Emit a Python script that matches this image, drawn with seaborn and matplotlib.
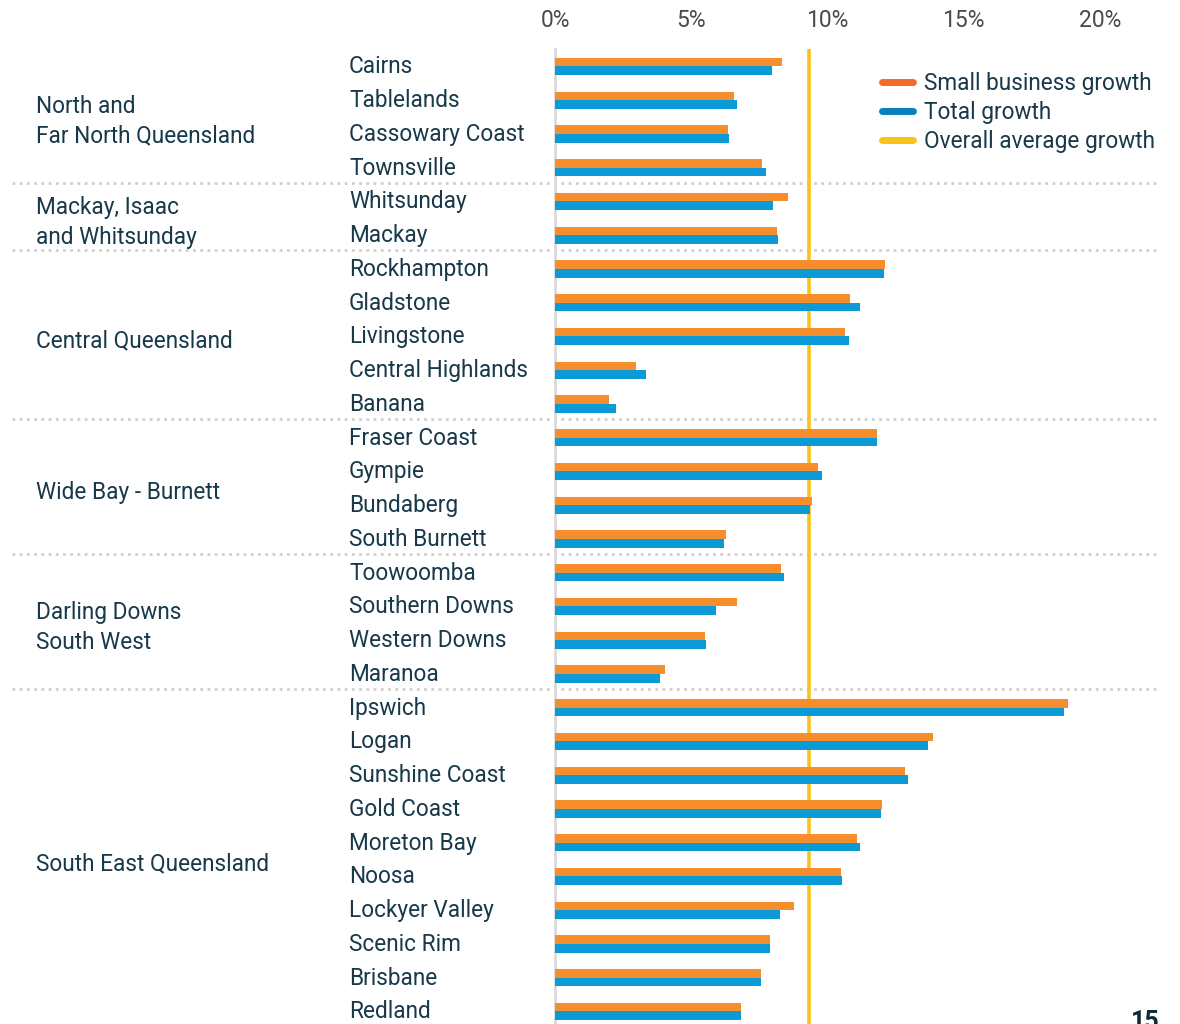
import matplotlib
matplotlib.use("Agg")
import matplotlib.pyplot as plt
from matplotlib.lines import Line2D
import matplotlib.transforms as mtransforms
import seaborn as sns
import pandas as pd

# ---------------- data ----------------
regions = ["North and\nFar North Queensland", "Mackay, Isaac\nand Whitsunday", "Central Queensland",
           "Wide Bay - Burnett", "Darling Downs\nSouth West", "South East Queensland"]
region_sizes = [4, 2, 5, 4, 4, 10]
areas = ["Cairns", "Tablelands", "Cassowary Coast", "Townsville",
         "Whitsunday", "Mackay",
         "Rockhampton", "Gladstone", "Livingstone", "Central Highlands", "Banana",
         "Fraser Coast", "Gympie", "Bundaberg", "South Burnett",
         "Toowoomba", "Southern Downs", "Western Downs", "Maranoa",
         "Ipswich", "Logan", "Sunshine Coast", "Gold Coast", "Moreton Bay", "Noosa",
         "Lockyer Valley", "Scenic Rim", "Brisbane", "Redland"]
small_business = [8.33, 6.56, 6.35, 7.60,
                  8.55, 8.15,
                  12.11, 10.83, 10.64, 2.97, 1.98,
                  11.82, 9.65, 9.43, 6.28,
                  8.29, 6.68, 5.50, 4.04,
                  18.83, 13.87, 12.84, 12.00, 11.09, 10.49, 8.77, 7.88, 7.55, 6.82]
total = [7.96, 6.68, 6.38, 7.75,
         8.00, 8.18,
         12.07, 11.19, 10.79, 3.34, 2.24,
         11.82, 9.80, 9.36, 6.20,
         8.40, 5.91, 5.54, 3.85,
         18.68, 13.69, 12.96, 11.96, 11.19, 10.53, 8.26, 7.88, 7.55, 6.82]
overall_average = 9.32
series_names = ["Small business growth", "Total growth", "Overall average growth"]
x_ticks = [0, 5, 10, 15, 20]
x_tick_labels = ["0%", "5%", "10%", "15%", "20%"]

# ---------------- style ----------------
ORANGE = "#F78E2E"
BLUE = "#0A9BD6"
YELLOW = "#F9C31A"
LEG_ORANGE = "#F26A2B"
LEG_BLUE = "#0A7FBE"
TEXT = "#17394A"
TICK = "#4A4A4A"
FS = 16.3

sns.set_style("white")
plt.rcParams["font.family"] = ["Roboto", "DejaVu Sans"]

W, H = 1180, 1024
fig = plt.figure(figsize=(W / 100, H / 100), dpi=100)
ax_left, ax_right, ax_top = 555, 1160, 49
ax = fig.add_axes([ax_left / W, 0, (ax_right - ax_left) / W, 1 - ax_top / H])

df = pd.DataFrame({
    "area": areas * 2,
    "value": small_business + total,
    "series": [series_names[0]] * len(areas) + [series_names[1]] * len(areas),
})

ax.axvline(overall_average, color=YELLOW, lw=2.6, zorder=0.5)

sns.barplot(data=df, y="area", x="value", hue="series", orient="h",
            palette=[ORANGE, BLUE], width=0.51, saturation=1, linewidth=0,
            legend=False, ax=ax, zorder=2)

row0, step = 66.5, 33.75
ax.set_ylim((H - row0) / step, (ax_top - row0) / step)
ax.set_xlim(0, (ax_right - ax_left) / 27.25)

# spines
for s in ["top", "right", "bottom"]:
    ax.spines[s].set_visible(False)
ax.spines["left"].set_color("#DADADA")
ax.spines["left"].set_linewidth(2)
ax.spines["left"].set_zorder(1)

# x axis on top
ax.xaxis.tick_top()
ax.set_xticks(x_ticks)
ax.set_xticklabels(x_tick_labels)
ax.tick_params(axis="x", length=0, pad=12, labelsize=16.5, labelcolor=TICK)
ax.set_xlabel("")
ax.set_ylabel("")

# category labels left aligned
ax.tick_params(axis="y", length=0, pad=(ax_left - 349) * 0.72, labelsize=FS, labelcolor=TEXT)
shift = mtransforms.ScaledTranslation(0, 2 / 100, fig.dpi_scale_trans)
for lab in ax.get_yticklabels():
    lab.set_horizontalalignment("left")
    lab.set_transform(lab.get_transform() + shift)

# separators between regions
trans = ax.get_yaxis_transform()
x0 = (12 - ax_left) / (ax_right - ax_left)
x1 = (1158 - ax_left) / (ax_right - ax_left)
cum = 0
bounds, centers = [], []
for n in region_sizes:
    centers.append(cum + (n - 1) / 2)
    cum += n
    bounds.append(cum - 0.5)
sep_shift = mtransforms.ScaledTranslation(0, 2 / 100, fig.dpi_scale_trans)
for b in bounds[:-1]:
    ax.plot([x0, x1], [b, b], transform=trans + sep_shift, clip_on=False, color="#CFCFCF",
            lw=2, linestyle=(0, (1, 1.6)), zorder=0.4)

# region labels
xr = (36 - ax_left) / (ax_right - ax_left)
down = mtransforms.ScaledTranslation(0, -4 / 100, fig.dpi_scale_trans)
for name, c in zip(regions, centers):
    ax.text(xr, c, name, transform=trans + down, ha="left", va="center",
            fontsize=FS, color=TEXT, linespacing=1.36)

# legend
handles = [Line2D([0], [0], color=LEG_ORANGE, lw=5, solid_capstyle="round"),
           Line2D([0], [0], color=LEG_BLUE, lw=5, solid_capstyle="round"),
           Line2D([0], [0], color=YELLOW, lw=5, solid_capstyle="round")]
leg = fig.legend(handles, series_names, loc="upper right",
                 bbox_to_anchor=(1155 / W, 1 - 72 / H), frameon=False,
                 fontsize=FS, handlelength=1.35, handletextpad=0.5,
                 labelspacing=0.27, borderpad=0, borderaxespad=0)
for t in leg.get_texts():
    t.set_color(TEXT)

# page number (cut off at the bottom edge, as in the source page)
fig.text(1145 / W, 1 - 1010 / H, "15", ha="center", va="top", fontsize=18,
         fontweight="bold", color="#0E2A38")

fig.savefig("out.png", dpi=100)
